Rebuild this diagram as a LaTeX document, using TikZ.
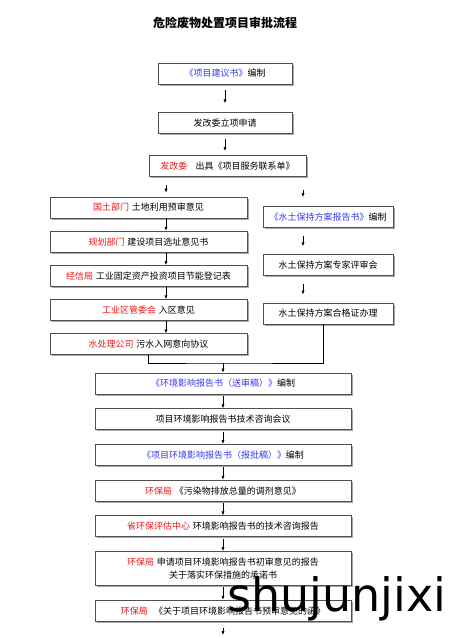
\documentclass[tikz,border=0pt]{standalone}
\usepackage{fontspec}
\setmainfont{Noto Sans CJK SC}
\newfontfamily\markfont{DejaVu Sans}
\usepackage{xcolor}
\usepackage{tikz}
\usetikzlibrary{arrows.meta, positioning, shadows, calc}
\definecolor{apRed}{HTML}{F01818}
\definecolor{apBlue}{HTML}{3838F0}
\definecolor{apEdge}{HTML}{505050}
\newcommand\dept[1]{\textcolor{apRed}{#1}\hspace{0.3em}}
\newcommand\doc[1]{\textcolor{apBlue}{#1}}

\begin{document}
\begin{tikzpicture}[
  x=1pt, y=1pt,
  box/.style={draw=apEdge, fill=white, line width=0.7pt, minimum width=#1,
              minimum height=21pt, inner sep=1pt, align=center,
              font=\fontsize{9}{13}\selectfont,
              drop shadow={shadow xshift=1.6pt, shadow yshift=-1.6pt,
                           fill=black!35, opacity=1}},
  flow/.style={-{Latex[length=4pt,width=3.2pt]}, line width=0.7pt},
  link/.style={line width=0.7pt}
]
  \useasboundingbox (0,0) rectangle (450,-638);

  \node[font=\bfseries\fontsize{12}{14}\selectfont] (title) at (225,-23) {危险废物处置项目审批流程};

  % main column, top
  \node[box=134pt] (b1) at (225,-73.5) {\doc{《项目建议书》}编制};
  \node[box=134pt, below=28pt of b1] (b2) {发改委立项申请};
  \node[box=157pt, below=21pt of b2, xshift=2.5pt] (b3) {\dept{发改委}\hspace{0.6em}出具《项目服务联系单》};

  % left column
  \node[box=197pt] (l1) at (148.5,-207.5) {\dept{国土部门}土地利用预审意见};
  \node[box=197pt, below=12.5pt of l1] (l2) {\dept{规划部门}建设项目选址意见书};
  \node[box=197pt, below=12.5pt of l2] (l3) {\dept{经信局}工业固定资产投资项目节能登记表};
  \node[box=197pt, below=12.5pt of l3] (l4) {\dept{工业区管委会}入区意见};
  \node[box=197pt, below=12.5pt of l4] (l5) {\dept{水处理公司}污水入网意向协议};

  % right column
  \node[box=130pt] (r1) at (328,-217) {\doc{《水土保持方案报告书》}编制};
  \node[box=130pt, below=26.5pt of r1] (r2) {水土保持方案专家评审会};
  \node[box=130pt, below=26.5pt of r2] (r3) {水土保持方案合格证办理};

  % main column, bottom
  \node[box=256pt] (c1) at (223,-383.5) {\doc{《环境影响报告书（送审稿）》}编制};
  \node[box=256pt, below=14pt of c1] (c2) {项目环境影响报告书技术咨询会议};
  \node[box=256pt, below=14pt of c2] (c3) {\doc{《项目环境影响报告书（报批稿）》}编制};
  \node[box=256pt, below=14pt of c3] (c4) {\dept{环保局}《污染物排放总量的调剂意见》};
  \node[box=256pt, below=14pt of c4] (c5) {\dept{省环保评估中心}环境影响报告书的技术咨询报告};
  \node[box=256pt, minimum height=34pt, below=14pt of c5] (c6) {\dept{环保局}申请项目环境影响报告书初审意见的报告\\关于落实环保措施的承诺书};
  \node[box=256pt, below=14pt of c6] (c7) {\dept{环保局}\hspace{0.4em}《关于项目环境影响报告书预审意见的函》};

  \coordinate (lx) at (166,0);
  \coordinate (rx) at (303,0);
  \coordinate (join) at (223,-363);
  \coordinate (tail) at (223,-635);

  \draw[flow, shorten <=6pt, shorten >=9pt] (b1) -- (b2);
  \draw[flow, shorten <=5pt, shorten >=4pt] (b2.south) -- (b2.south |- b3.north);
  \draw[flow, shorten <=8pt, shorten >=4pt] (b3.south -| lx) -- (l1.north -| lx);
  \draw[flow, shorten <=13pt, shorten >=9pt] (b3.south -| rx) -- (r1.north -| rx);
  \foreach \a/\b in {l1/l2, l2/l3, l3/l4, l4/l5}
    \draw[flow] (\a.south -| lx) -- (\b.north -| lx);
  \foreach \a/\b in {r1/r2, r2/r3}
    \draw[flow, shorten <=8pt, shorten >=8pt] (\a.south -| rx) -- (\b.north -| rx);
  \draw[link] (l5.south) |- (join) -| ([xshift=-5pt]r3.south);
  \draw[flow] (join) -- (c1);
  \foreach \a/\b in {c1/c2, c2/c3, c3/c4, c4/c5, c5/c6, c6/c7}
    \draw[flow, shorten <=1.5pt] (\a) -- (\b);
  \draw[flow, shorten <=6pt] (c7) -- (tail);

  \node[font=\markfont\fontsize{46}{46}\selectfont, anchor=base west, inner sep=0pt] (mark) at (227,-611) {shujunjixi};
\end{tikzpicture}
\end{document}
